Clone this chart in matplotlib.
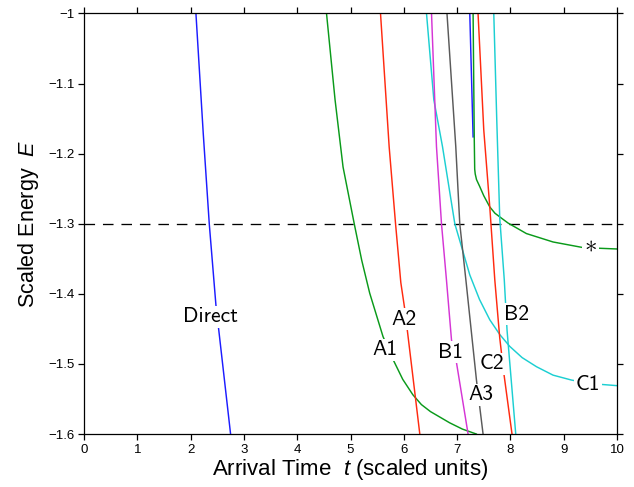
"""Arrival time vs scaled energy for the direct and scattered branches,
with the E = -1.3 reference level marked."""
import matplotlib
matplotlib.use("Agg")
import matplotlib.pyplot as plt

E_REF = -1.3

# (t, E) samples
direct_t = [2.10, 2.237, 2.35, 2.475, 2.75]
direct_E = [-1.0, -1.171, -1.30, -1.416, -1.60]

a1_t = [4.55, 4.71, 4.86, 5.07, 5.21, 5.36, 5.61, 5.80, 5.98, 6.17, 6.33, 6.50, 6.86, 7.10, 7.36]
a1_E = [-1.0, -1.123, -1.219, -1.300, -1.352, -1.399, -1.461, -1.494, -1.522, -1.544,
        -1.558, -1.568, -1.584, -1.593, -1.600]

a2_t = [5.563, 5.725, 5.845, 5.944, 6.02, 6.30]
a2_E = [-1.0, -1.190, -1.300, -1.384, -1.423, -1.60]

b1_t = [6.52, 6.613, 6.707, 6.80, 6.895, 6.99, 7.206]
b1_E = [-1.0, -1.190, -1.300, -1.380, -1.466, -1.499, -1.600]

c1_t = [6.426, 6.563, 6.726, 6.957, 7.238, 7.42, 7.613, 7.80, 7.988, 8.22, 8.49, 8.80, 9.145, 9.50, 10.0]
c1_E = [-1.0, -1.123, -1.190, -1.300, -1.373, -1.408, -1.437, -1.458, -1.475, -1.491,
        -1.504, -1.516, -1.523, -1.528, -1.531]

a3_t = [6.81, 6.975, 7.05, 7.17, 7.363, 7.487]
a3_E = [-1.0, -1.190, -1.300, -1.384, -1.523, -1.600]

blue2_t = [7.238, 7.30]
blue2_E = [-1.0, -1.176]

star_t = [7.30, 7.322, 7.33, 7.34, 7.364, 7.425, 7.50, 7.613, 7.71, 7.832, 7.956, 8.30, 8.80, 9.363, 10.0]
star_E = [-1.0, -1.18, -1.222, -1.229, -1.237, -1.247, -1.260, -1.276, -1.285, -1.292,
          -1.299, -1.314, -1.326, -1.334, -1.336]

c2_t = [7.393, 7.50, 7.613, 7.707, 7.80, 7.876, 8.03]
c2_E = [-1.0, -1.166, -1.276, -1.380, -1.463, -1.513, -1.600]

b2_t = [7.688, 7.744, 7.80, 7.885, 7.937, 8.10]
b2_E = [-1.0, -1.152, -1.292, -1.380, -1.452, -1.600]

label_names = ["Direct", "A1", "A2", "B1", "A3", "C2", "B2", "C1"]
label_t = [2.38, 5.64, 6.00, 6.88, 7.45, 7.645, 8.12, 9.45]
label_E = [-1.433, -1.480, -1.436, -1.483, -1.544, -1.500, -1.429, -1.530]
star_label_t, star_label_E = 9.507, -1.330

x_ticks = [0, 1, 2, 3, 4, 5, 6, 7, 8, 9, 10]
y_ticks = [-1.0, -1.1, -1.2, -1.3, -1.4, -1.5, -1.6]
y_tick_labels = ["\u22121", "\u22121.1", "\u22121.2", "\u22121.3", "\u22121.4", "\u22121.5", "\u22121.6"]

BLUE = "#1c1cff"
GREEN = "#0a9a1a"
RED = "#ff2a10"
MAGENTA = "#d535d5"
CYAN = "#1ccfd2"
GRAY = "#5a5a5a"

plt.rcParams["font.family"] = ["Liberation Sans", "DejaVu Sans"]
plt.rcParams["mathtext.fontset"] = "custom"
plt.rcParams["mathtext.rm"] = "Liberation Sans"
plt.rcParams["mathtext.it"] = "Liberation Sans:italic"

fig = plt.figure(figsize=(6.34, 4.87), dpi=100)
ax = fig.add_axes([0.1325, 0.1088, 0.8407, 0.8635])

lw = 1.05
ax.axhline(E_REF, color="black", linewidth=0.95, dashes=(8, 6))
ax.plot(direct_t, direct_E, color=BLUE, linewidth=lw)
ax.plot(a1_t, a1_E, color=GREEN, linewidth=lw)
ax.plot(a2_t, a2_E, color=RED, linewidth=lw)
ax.plot(c1_t, c1_E, color=CYAN, linewidth=lw)
ax.plot(b1_t, b1_E, color=MAGENTA, linewidth=lw)
ax.plot(a3_t, a3_E, color=GRAY, linewidth=lw)
ax.plot(blue2_t, blue2_E, color=BLUE, linewidth=lw)
ax.plot(star_t, star_E, color=GREEN, linewidth=lw)
ax.plot(c2_t, c2_E, color=RED, linewidth=lw)
ax.plot(b2_t, b2_E, color=CYAN, linewidth=lw)

box = dict(boxstyle="square,pad=0.08", fc="white", ec="none")
for name, t, e in zip(label_names, label_t, label_E):
    ax.text(t, e, name, family="cmss10", fontsize=15.5,
            ha="center", va="center", zorder=5, bbox=box)
ax.text(star_label_t, star_label_E, r"$\ast$", math_fontfamily="cm", fontsize=18,
        ha="center", va="center", zorder=5, bbox=box)

ax.set_xlim(0, 10)
ax.set_ylim(-1.6, -1.0)
ax.set_xticks(x_ticks)
ax.set_yticks(y_ticks)
ax.set_yticklabels(y_tick_labels)
ax.tick_params(direction="out", length=4, width=0.9, labelsize=9.5,
               top=True, right=True, pad=3)
for s in ax.spines.values():
    s.set_linewidth(0.9)

ax.set_xlabel("Arrival Time  $t$ (scaled units)", fontsize=16, labelpad=1)
ax.set_ylabel("Scaled Energy  $E$", fontsize=15.5, labelpad=5)

fig.savefig("out.png", dpi=100)
